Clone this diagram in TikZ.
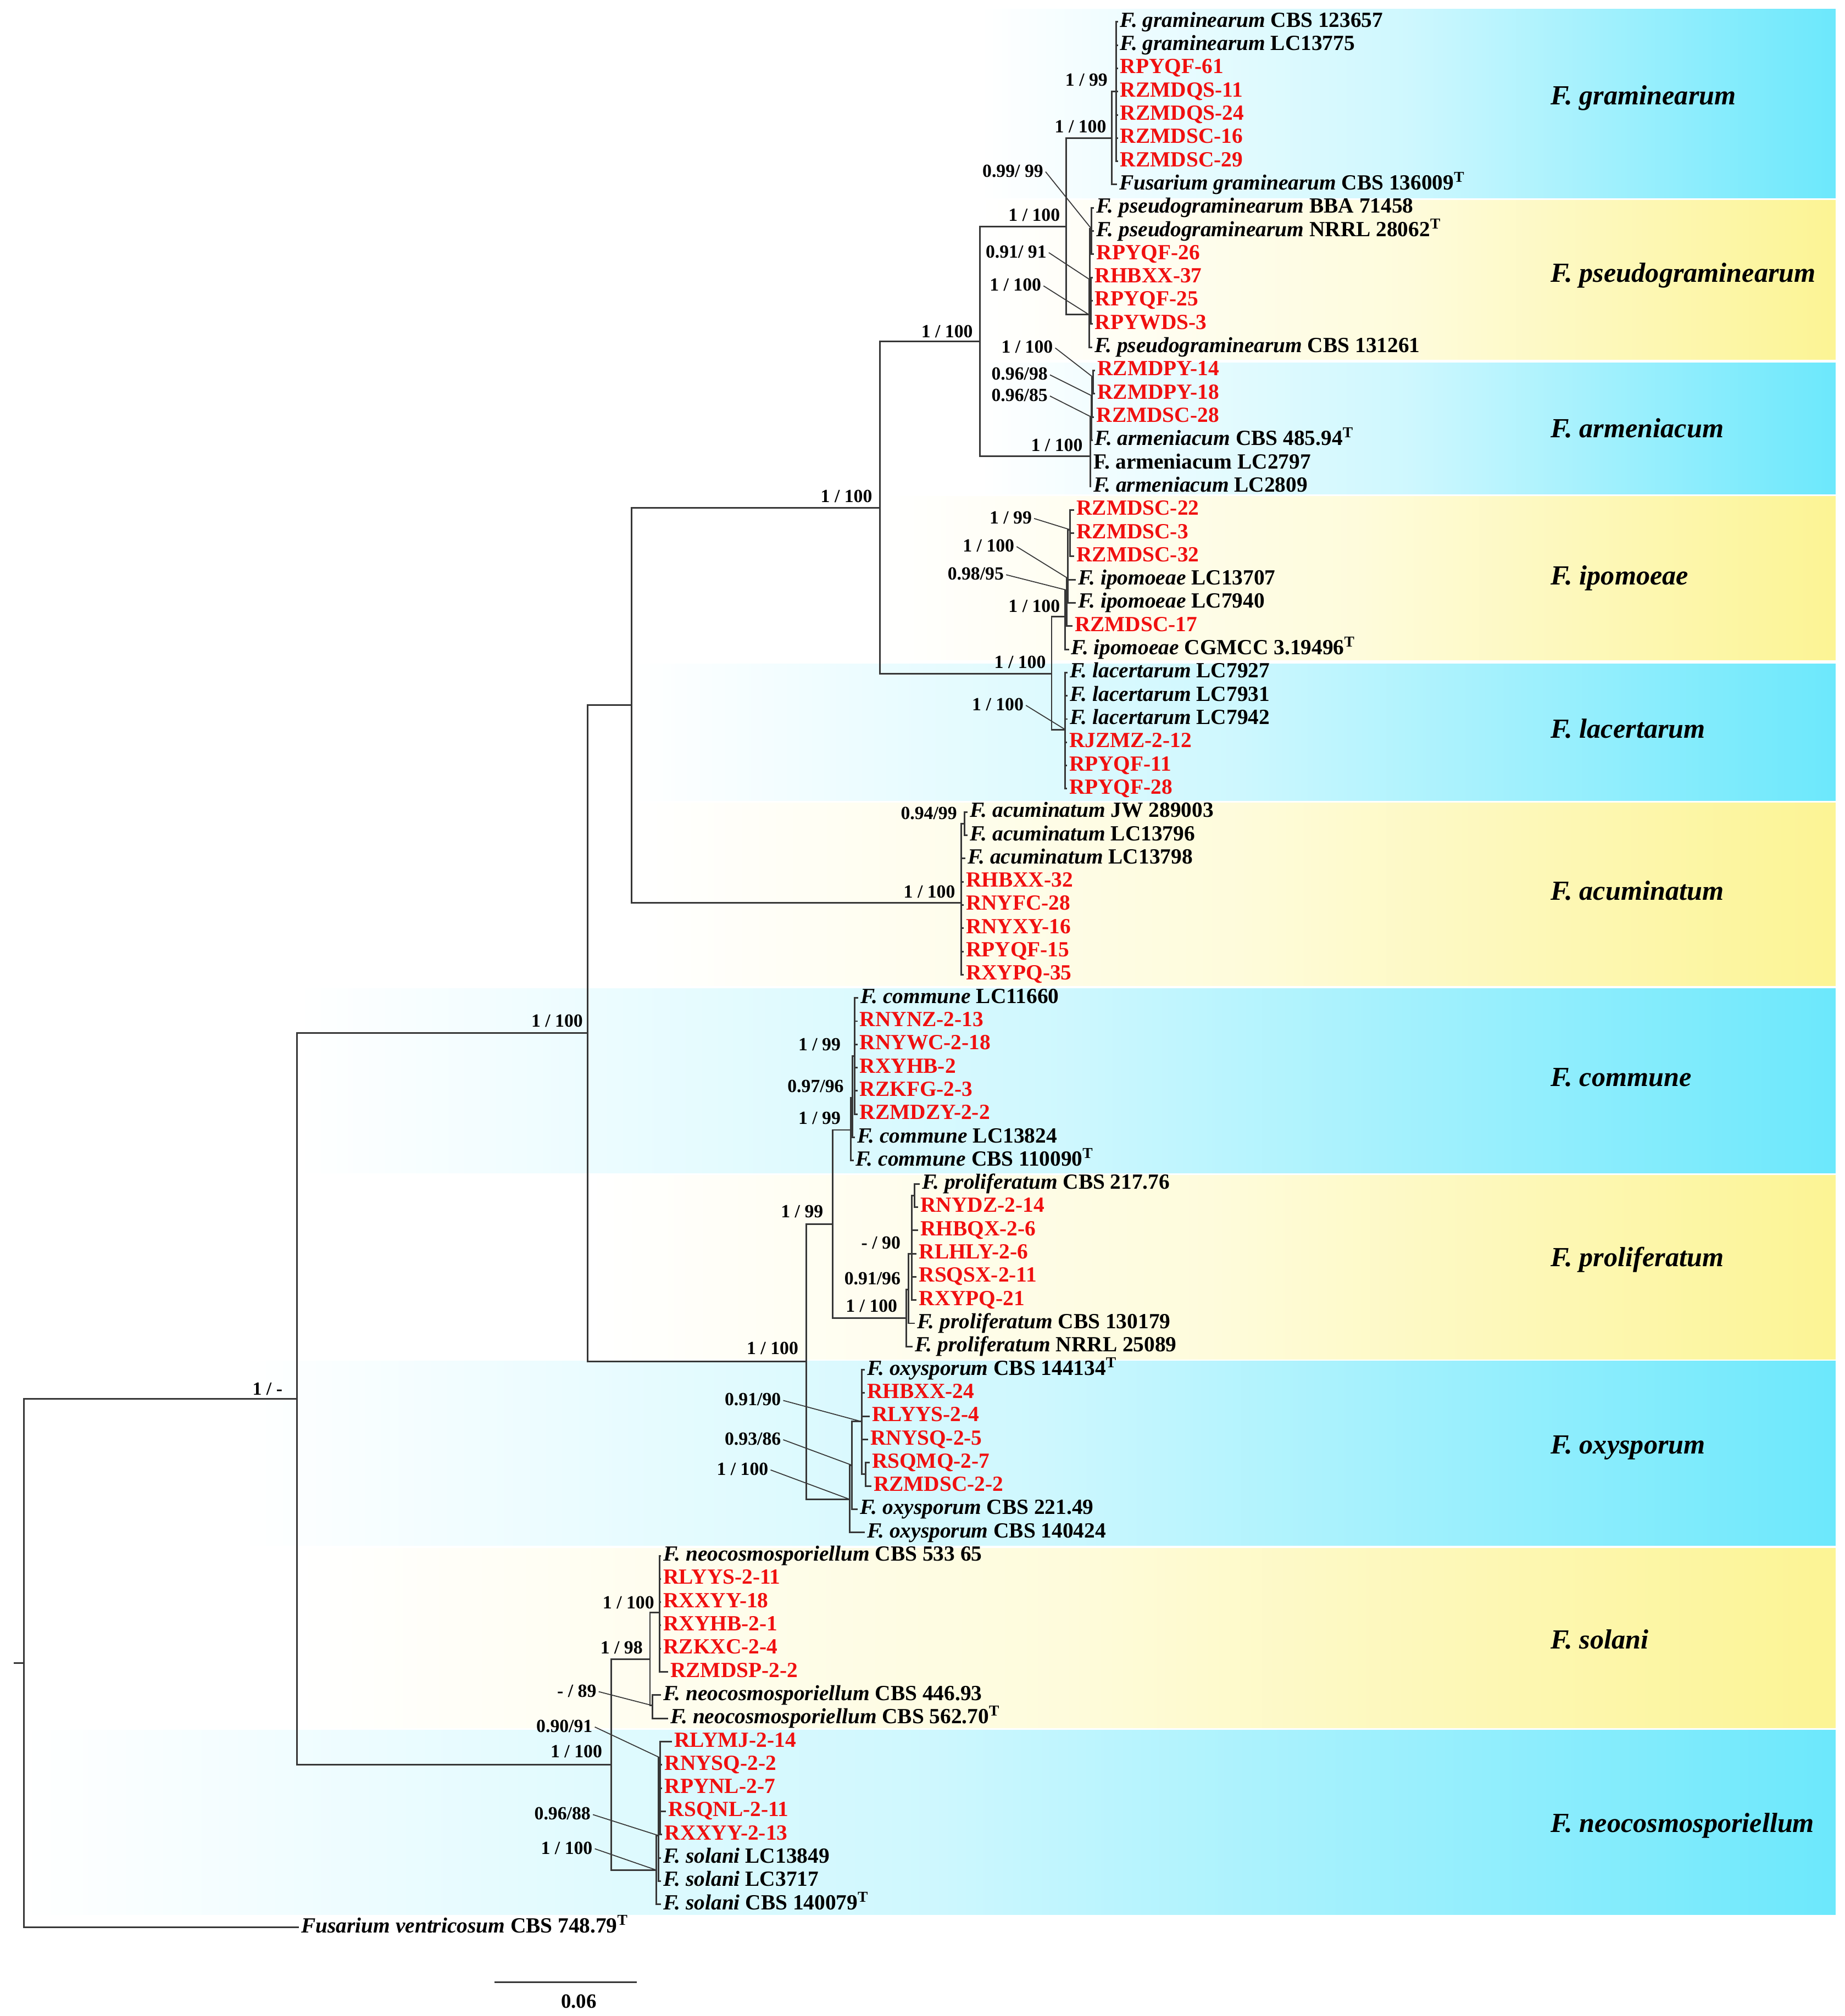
\documentclass[tikz,border=0pt]{standalone}
\usepackage{fontspec}
\setmainfont{Liberation Serif}
\definecolor{isored}{RGB}{240,16,16}
\definecolor{bandcyan}{RGB}{108,232,252}
\definecolor{bandyellow}{RGB}{252,244,148}
\definecolor{treeline}{RGB}{55,55,55}
\tikzset{
  taxon/.style={anchor=west, inner xsep=1pt, inner ysep=0pt, text height=7.6pt, text depth=2.2pt, font=\fontsize{11.2}{12}\selectfont\bfseries},
  isolate/.style={taxon, text=isored},
  bs/.style={anchor=east, inner xsep=1pt, inner ysep=0pt, text height=6.6pt, text depth=1.2pt, font=\fontsize{9.6}{10}\selectfont\bfseries},
  clade/.style={anchor=west, inner sep=0pt, font=\fontsize{14.3}{16}\selectfont\bfseries\itshape},
  branch/.style={draw=treeline, line width=0.85pt},
  leader/.style={draw=treeline, line width=0.5pt},
  cyanband/.style={left color=white, right color=bandcyan, middle color=bandcyan!33!white},
  yellowband/.style={left color=white, right color=bandyellow, middle color=bandyellow!33!white}
}
\begin{document}
\begin{tikzpicture}[x=0.0234cm, y=-0.42307cm]
\useasboundingbox (0,0.0597) rectangle (1434.2,86.807);

% species bands
\shade[cyanband] (762,0.45) rectangle (1427.3,8.58);
\shade[yellowband] (762,8.68) rectangle (1427.3,15.54);
\shade[cyanband] (762,15.67) rectangle (1427.3,21.32);
\shade[yellowband] (684,21.41) rectangle (1427.3,28.47);
\shade[cyanband] (491,28.62) rectangle (1427.3,34.5);
\shade[yellowband] (491,34.6) rectangle (1427.3,42.48);
\shade[cyanband] (231,42.59) rectangle (1427.3,50.54);
\shade[yellowband] (457,50.63) rectangle (1427.3,58.54);
\shade[cyanband] (188,58.63) rectangle (1427.3,66.57);
\shade[yellowband] (231,66.67) rectangle (1427.3,74.41);
\shade[cyanband] (18,74.51) rectangle (1427.3,82.44);

\node[clade] (ngram) at (1205.6,4.27) {F. graminearum};
\node[clade] (npseudo) at (1205.6,11.91) {F. pseudograminearum};
\node[clade] (narm) at (1205.6,18.48) {F. armeniacum};
\node[clade] (nipo) at (1205.6,24.94) {F. ipomoeae};
\node[clade] (nlac) at (1205.6,31.42) {F. lacertarum};
\node[clade] (nacu) at (1205.6,38.39) {F. acuminatum};
\node[clade] (ncom) at (1205.6,46.41) {F. commune};
\node[clade] (npro) at (1205.6,54.26) {F. proliferatum};
\node[clade] (noxy) at (1205.6,62.36) {F. oxysporum};
\node[clade] (nsol) at (1205.6,70.59) {F. solani};
\node[clade] (nneo) at (1205.6,78.62) {F. neocosmosporiellum};

% taxa
\node[taxon] (t1) at (869.3,1) {\textit{F. graminearum} CBS 123657};
\node[taxon] (t2) at (869.3,2) {\textit{F. graminearum} LC13775};
\node[isolate] (t3) at (869.3,3) {RPYQF-61};
\node[isolate] (t4) at (869.3,4) {RZMDQS-11};
\node[isolate] (t5) at (869.3,5) {RZMDQS-24};
\node[isolate] (t6) at (869.3,6) {RZMDSC-16};
\node[isolate] (t7) at (869.3,7) {RZMDSC-29};
\node[taxon] (t8) at (868.5,8) {\textit{Fusarium graminearum} CBS 136009\textsuperscript{T}};
\node[taxon] (t9) at (850.8,9) {\textit{F. pseudograminearum} BBA 71458};
\node[taxon] (t10) at (850.8,10) {\textit{F. pseudograminearum} NRRL 28062\textsuperscript{T}};
\node[isolate] (t11) at (850.8,11) {RPYQF-26};
\node[isolate] (t12) at (849.6,12) {RHBXX-37};
\node[isolate] (t13) at (849.6,13) {RPYQF-25};
\node[isolate] (t14) at (849.6,14) {RPYWDS-3};
\node[taxon] (t15) at (849.4,15) {\textit{F. pseudograminearum} CBS 131261};
\node[isolate] (t16) at (851.6,16) {RZMDPY-14};
\node[isolate] (t17) at (851.6,17) {RZMDPY-18};
\node[isolate] (t18) at (850.8,18) {RZMDSC-28};
\node[taxon] (t19) at (849.6,19) {\textit{F. armeniacum} CBS 485.94\textsuperscript{T}};
\node[taxon] (t20) at (848.5,20) {F. armeniacum LC2797};
\node[taxon] (t21) at (848.5,21) {\textit{F. armeniacum} LC2809};
\node[isolate] (t22) at (835.3,22) {RZMDSC-22};
\node[isolate] (t23) at (835.3,23) {RZMDSC-3};
\node[isolate] (t24) at (835.3,24) {RZMDSC-32};
\node[taxon] (t25) at (836.6,25) {\textit{F. ipomoeae} LC13707};
\node[taxon] (t26) at (836.6,26) {\textit{F. ipomoeae} LC7940};
\node[isolate] (t27) at (833.9,27) {RZMDSC-17};
\node[taxon] (t28) at (831.2,28) {\textit{F. ipomoeae} CGMCC 3.19496\textsuperscript{T}};
\node[taxon] (t29) at (830.3,29) {\textit{F. lacertarum} LC7927};
\node[taxon] (t30) at (830.3,30) {\textit{F. lacertarum} LC7931};
\node[taxon] (t31) at (830.3,31) {\textit{F. lacertarum} LC7942};
\node[isolate] (t32) at (829.6,32) {RJZMZ-2-12};
\node[isolate] (t33) at (829.6,33) {RPYQF-11};
\node[isolate] (t34) at (829.6,34) {RPYQF-28};
\node[taxon] (t35) at (752.5,35) {\textit{F. acuminatum} JW 289003};
\node[taxon] (t36) at (752.5,36) {\textit{F. acuminatum} LC13796};
\node[taxon] (t37) at (750.7,37) {\textit{F. acuminatum} LC13798};
\node[isolate] (t38) at (749.3,38) {RHBXX-32};
\node[isolate] (t39) at (749.3,39) {RNYFC-28};
\node[isolate] (t40) at (749.3,40) {RNYXY-16};
\node[isolate] (t41) at (749.3,41) {RPYQF-15};
\node[isolate] (t42) at (749.3,42) {RXYPQ-35};
\node[taxon] (t43) at (667.4,43) {\textit{F. commune} LC11660};
\node[isolate] (t44) at (666.7,44) {RNYNZ-2-13};
\node[isolate] (t45) at (666.7,45) {RNYWC-2-18};
\node[isolate] (t46) at (666.7,46) {RXYHB-2};
\node[isolate] (t47) at (666.7,47) {RZKFG-2-3};
\node[isolate] (t48) at (666.7,48) {RZMDZY-2-2};
\node[taxon] (t49) at (664.9,49) {\textit{F. commune} LC13824};
\node[taxon] (t50) at (663.7,50) {\textit{F. commune} CBS 110090\textsuperscript{T}};
\node[taxon] (t51) at (715.2,51) {\textit{F. proliferatum} CBS 217.76};
\node[isolate] (t52) at (714,52) {RNYDZ-2-14};
\node[isolate] (t53) at (714,53) {RHBQX-2-6};
\node[isolate] (t54) at (712.8,54) {RLHLY-2-6};
\node[isolate] (t55) at (712.8,55) {RSQSX-2-11};
\node[isolate] (t56) at (712.8,56) {RXYPQ-21};
\node[taxon] (t57) at (711.5,57) {\textit{F. proliferatum} CBS 130179};
\node[taxon] (t58) at (709.8,58) {\textit{F. proliferatum} NRRL 25089};
\node[taxon] (t59) at (672.5,59) {\textit{F. oxysporum} CBS 144134\textsuperscript{T}};
\node[isolate] (t60) at (672.5,60) {RHBXX-24};
\node[isolate] (t61) at (676.2,61) {RLYYS-2-4};
\node[isolate] (t62) at (675,62) {RNYSQ-2-5};
\node[isolate] (t63) at (676.2,63) {RSQMQ-2-7};
\node[isolate] (t64) at (677.5,64) {RZMDSC-2-2};
\node[taxon] (t65) at (667.1,65) {\textit{F. oxysporum} CBS 221.49};
\node[taxon] (t66) at (672.5,66) {\textit{F. oxysporum} CBS 140424};
\node[taxon] (t67) at (514.1,67) {\textit{F. neocosmosporiellum} CBS 533 65};
\node[isolate] (t68) at (514.1,68) {RLYYS-2-11};
\node[isolate] (t69) at (514.1,69) {RXXYY-18};
\node[isolate] (t70) at (514.1,70) {RXYHB-2-1};
\node[isolate] (t71) at (514.1,71) {RZKXC-2-4};
\node[isolate] (t72) at (519.5,72) {RZMDSP-2-2};
\node[taxon] (t73) at (514.1,73) {\textit{F. neocosmosporiellum} CBS 446.93};
\node[taxon] (t74) at (519.5,74) {\textit{F. neocosmosporiellum} CBS 562.70\textsuperscript{T}};
\node[isolate] (t75) at (522.5,75) {RLYMJ-2-14};
\node[isolate] (t76) at (515,76) {RNYSQ-2-2};
\node[isolate] (t77) at (515,77) {RPYNL-2-7};
\node[isolate] (t78) at (518,78) {RSQNL-2-11};
\node[isolate] (t79) at (515,79) {RXXYY-2-13};
\node[taxon] (t80) at (514.1,80) {\textit{F. solani} LC13849};
\node[taxon] (t81) at (514.1,81) {\textit{F. solani} LC3717};
\node[taxon] (t82) at (514.1,82) {\textit{F. solani} CBS 140079\textsuperscript{T}};
\node[taxon] (t83) at (232.5,83) {\textit{Fusarium ventricosum} CBS 748.79\textsuperscript{T}};

% internal nodes
\coordinate (rootstub) at (10.7,71.62);
\coordinate (R) at (18.5,71.62);
\coordinate (A) at (231,60.24);
\coordinate (B) at (457,44.5);
\coordinate (C) at (491,30.4);
\coordinate (E) at (684.2,21.9);
\coordinate (F) at (762,14.75);
\coordinate (G) at (829.1,9.8);
\coordinate (H) at (864.6,6);
\coordinate (H2) at (868,4);
\coordinate (P) at (846.8,13.6);
\coordinate (Pa) at (847.6,12.1);
\coordinate (Pb) at (848.6,9.9);
\coordinate (Pc) at (848.4,13);
\coordinate (A1) at (847.7,19.7);
\coordinate (A2) at (848.5,18.0);
\coordinate (A3) at (849.3,17.1);
\coordinate (A4) at (850.1,16.3);
\coordinate (L) at (817.7,29.05);
\coordinate (Ip) at (828,26.59);
\coordinate (Ip2) at (829.3,25.45);
\coordinate (Ip3) at (830.5,24.95);
\coordinate (Ip4) at (832,22.85);
\coordinate (La) at (828.2,31.45);
\coordinate (Ac) at (747.3,38.9);
\coordinate (Ac2) at (749.8,35.5);
\coordinate (D) at (627,58.65);
\coordinate (K) at (647.5,52.73);
\coordinate (Cm) at (661.5,48.68);
\coordinate (Cm2) at (663,47.3);
\coordinate (Cm3) at (664.6,45.5);
\coordinate (Pr) at (704.5,56.78);
\coordinate (Pr2) at (706.5,55.54);
\coordinate (Pr3) at (708.8,54);
\coordinate (Pr4) at (711,51.5);
\coordinate (Ox) at (660.5,64.57);
\coordinate (Ox2) at (662.2,63.1);
\coordinate (Ox3) at (670,61.23);
\coordinate (Ox5) at (673,63.5);
\coordinate (SN) at (475.4,75.99);
\coordinate (So) at (505.4,71.45);
\coordinate (So2) at (512.9,69.45);
\coordinate (So3) at (507.5,73.45);
\coordinate (Ne) at (510.5,80.53);
\coordinate (Ne2) at (512,79.04);
\coordinate (Ne3) at (513.5,75.7);

% branches
\draw[branch] (rootstub) -- (R);
\draw[branch] (R) |- (A) (R) |- (t83.west) (A) |- (B) (A) |- (SN) (B) |- (C) (B) |- (D);
\draw[branch] (C) |- (E) (C) |- (Ac) (E) |- (F) (E) |- (L) (F) |- (G) (F) |- (A1) (G) |- (H) (G) |- (P);
\draw[branch] (H) |- (H2) (H) |- (t8.west) (H2) |- (t1.west) (H2) |- (t2.west) (H2) |- (t3.west)
  (H2) |- (t4.west) (H2) |- (t5.west) (H2) |- (t6.west) (H2) |- (t7.west);
\draw[branch] (P) |- (Pa) (P) |- (t15.west) (Pa) |- (Pb) (Pa) |- (Pc) (Pb) |- (t9.west) (Pb) |- (t10.west)
  (Pb) |- (t11.west) (Pc) |- (t12.west) (Pc) |- (t13.west) (Pc) |- (t14.west);
\draw[branch] (A1) |- (A2) (A1) |- (t20.west) (A1) |- (t21.west) (A2) |- (A3) (A2) |- (t19.west)
  (A3) |- (A4) (A3) |- (t18.west) (A4) |- (t16.west) (A4) |- (t17.west);
\draw[branch] (L) |- (Ip) (L) |- (La) (Ip) |- (Ip2) (Ip) |- (t28.west) (Ip2) |- (Ip3) (Ip2) |- (t27.west)
  (Ip3) |- (Ip4) (Ip3) |- (t25.west) (Ip3) |- (t26.west) (Ip4) |- (t22.west) (Ip4) |- (t23.west) (Ip4) |- (t24.west);
\draw[branch] (La) |- (t29.west) (La) |- (t30.west) (La) |- (t31.west) (La) |- (t32.west) (La) |- (t33.west) (La) |- (t34.west);
\draw[branch] (Ac) |- (Ac2) (Ac) |- (t37.west) (Ac) |- (t38.west) (Ac) |- (t39.west) (Ac) |- (t40.west)
  (Ac) |- (t41.west) (Ac) |- (t42.west) (Ac2) |- (t35.west) (Ac2) |- (t36.west);
\draw[branch] (D) |- (K) (D) |- (Ox) (K) |- (Cm) (K) |- (Pr);
\draw[branch] (Cm) |- (Cm2) (Cm) |- (t50.west) (Cm2) |- (Cm3) (Cm2) |- (t49.west) (Cm3) |- (t43.west) (Cm3) |- (t44.west)
  (Cm3) |- (t45.west) (Cm3) |- (t46.west) (Cm3) |- (t47.west) (Cm3) |- (t48.west);
\draw[branch] (Pr) |- (Pr2) (Pr) |- (t58.west) (Pr2) |- (Pr3) (Pr2) |- (t57.west) (Pr3) |- (Pr4) (Pr3) |- (t53.west)
  (Pr3) |- (t54.west) (Pr3) |- (t55.west) (Pr3) |- (t56.west) (Pr4) |- (t51.west) (Pr4) |- (t52.west);
\draw[branch] (Ox) |- (Ox2) (Ox) |- (t66.west) (Ox2) |- (Ox3) (Ox2) |- (t65.west) (Ox3) |- (t59.west) (Ox3) |- (t60.west)
  (Ox3) |- (t61.west) (Ox3) |- (t62.west) (Ox3) |- (Ox5) (Ox5) |- (t63.west) (Ox5) |- (t64.west);
\draw[branch] (SN) |- (So) (SN) |- (Ne) (So) |- (So2) (So) |- (So3) (So2) |- (t67.west) (So2) |- (t68.west) (So2) |- (t69.west)
  (So2) |- (t70.west) (So2) |- (t71.west) (So2) |- (t72.west) (So3) |- (t73.west) (So3) |- (t74.west);
\draw[branch] (Ne) |- (Ne2) (Ne) |- (t82.west) (Ne2) |- (Ne3) (Ne2) |- (t80.west) (Ne2) |- (t81.west) (Ne3) |- (t75.west)
  (Ne3) |- (t76.west) (Ne3) |- (t77.west) (Ne3) |- (t78.west) (Ne3) |- (t79.west);

% support values
\node[bs] (sA) at (221.4,59.85) {1 / -};
\node[bs] (sB) at (455,44.03) {1 / 100};
\node[bs] (sE) at (680,21.46) {1 / 100};
\node[bs] (sF) at (758.2,14.36) {1 / 100};
\node[bs] (sG) at (826,9.35) {1 / 100};
\node[bs] (sH) at (862,5.54) {1 / 100};
\node[bs] (sH2) at (863,3.54) {1 / 99};
\node[bs] (sPb) at (813,7.45) {0.99/ 99};
\node[bs] (sPa) at (815.5,10.93) {0.91/ 91};
\node[bs] (sP) at (811.4,12.36) {1 / 100};
\node[bs] (sA4) at (820.5,15.03) {1 / 100};
\node[bs] (sA3) at (816.4,16.19) {0.96/98};
\node[bs] (sA2) at (816.4,17.1) {0.96/85};
\node[bs] (sA1) at (843.6,19.25) {1 / 100};
\node[bs] (sIp4) at (804.1,22.37) {1 / 99};
\node[bs] (sIp3) at (790.5,23.58) {1 / 100};
\node[bs] (sIp2) at (782.3,24.79) {0.98/95};
\node[bs] (sIp) at (826,26.17) {1 / 100};
\node[bs] (sL) at (815,28.59) {1 / 100};
\node[bs] (sLa) at (797.7,30.41) {1 / 100};
\node[bs] (sAc2) at (745.9,35.1) {0.94/99};
\node[bs] (sAc) at (744.5,38.48) {1 / 100};
\node[bs] (sCm3) at (655.4,45.04) {1 / 99};
\node[bs] (sCm2) at (657.8,46.83) {0.97/96};
\node[bs] (sCm) at (655.4,48.2) {1 / 99};
\node[bs] (sK) at (641.9,52.22) {1 / 99};
\node[bs] (sPr3) at (702,53.58) {- / 90};
\node[bs] (sPr2) at (702,55.11) {0.91/96};
\node[bs] (sPr) at (699.5,56.28) {1 / 100};
\node[bs] (sD) at (622.5,58.11) {1 / 100};
\node[bs] (sOx3) at (609,60.32) {0.91/90};
\node[bs] (sOx2) at (609,62.01) {0.93/86};
\node[bs] (sOx) at (599.2,63.31) {1 / 100};
\node[bs] (sSo2) at (510.5,69.05) {1 / 100};
\node[bs] (sSo) at (501.5,71.0) {1 / 98};
\node[bs] (sSo3) at (465.5,72.85) {- / 89};
\node[bs] (sNe3) at (462.5,74.37) {0.90/91};
\node[bs] (sSN) at (470,75.47) {1 / 100};
\node[bs] (sNe2) at (461,78.14) {0.96/88};
\node[bs] (sNe) at (462.5,79.61) {1 / 100};

\draw[leader] (sPb.east) -- (Pb) (sPa.east) -- (Pa) (sP.east) -- (P);
\draw[leader] (sA4.east) -- (A4) (sA3.east) -- (A3) (sA2.east) -- (A2);
\draw[leader] (sIp4.east) -- (Ip4) (sIp3.east) -- (Ip3) (sIp2.east) -- (Ip2) (sLa.east) -- (La);
\draw[leader] (sOx3.east) -- (Ox3) (sOx2.east) -- (Ox2) (sOx.east) -- (Ox);
\draw[leader] (sSo3.east) -- (So3) (sNe3.east) -- (Ne3) (sNe2.east) -- (Ne2) (sNe.east) -- (Ne);

% scale bar
\coordinate (sb1) at (384.4,85.35);
\coordinate (sb2) at (495,85.35);
\draw[branch] (sb1) -- (sb2);
\node[font=\fontsize{10.5}{12}\selectfont\bfseries] (sblab) at (450,86.17) {0.06};
\end{tikzpicture}
\end{document}
